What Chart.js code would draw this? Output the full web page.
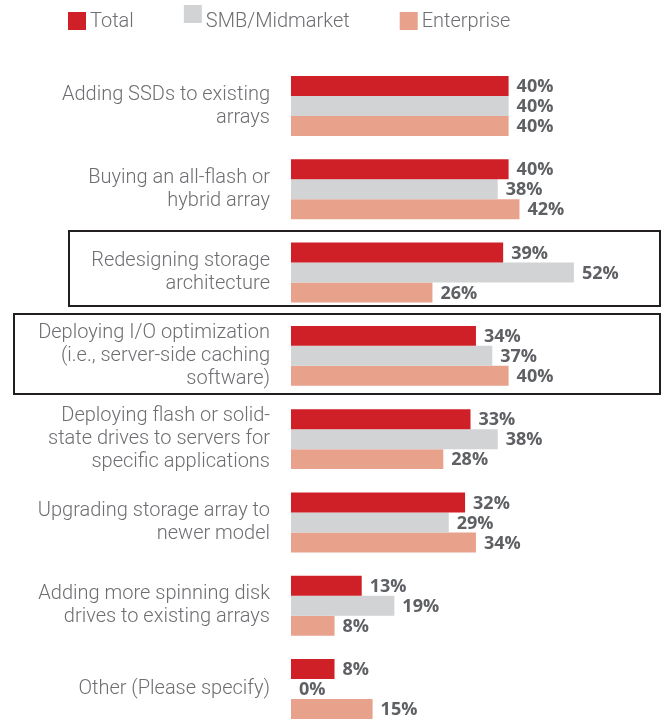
<!DOCTYPE html>
<html>
<head>
<meta charset="utf-8">
<script src="https://cdn.jsdelivr.net/npm/chart.js@4.4.0/dist/chart.umd.min.js"></script>
<style>
  html, body { margin: 0; padding: 0; background: #fff; overflow: hidden; }
</style>
</head>
<body>
<canvas id="chart" width="662" height="740"></canvas>
<script>
const categories = [
    ["Adding SSDs to existing", "arrays"],
    ["Buying an all-flash or", "hybrid array"],
    ["Redesigning storage", "architecture"],
    ["Deploying I/O optimization", "(i.e., server-side caching", "software)"],
    ["Deploying flash or solid-", "state drives to servers for", "specific applications"],
    ["Upgrading storage array to", "newer model"],
    ["Adding more spinning disk", "drives to existing arrays"],
    ["Other (Please specify)"]
];
const total = [40, 40, 39, 34, 33, 32, 13, 8];
const smb = [40, 38, 52, 37, 38, 29, 19, 0];
const enterprise = [40, 42, 26, 40, 28, 34, 8, 15];

const seriesNames = ["Total", "SMB/Midmarket", "Enterprise"];
const seriesColors = ["#cf2027", "#d1d3d4", "#e8a28c"];

const textGray = "#6d6e71";
const valueGray = "#5e6064";

// percent labels at the end of each bar
const valueLabels = {
    id: "valueLabels",
    afterDatasetsDraw(chart) {
        const ctx = chart.ctx;
        ctx.save();
        ctx.font = '700 18px "Open Sans"';
        ctx.fillStyle = valueGray;
        ctx.textAlign = "left";
        ctx.textBaseline = "middle";
        chart.data.datasets.forEach((ds, i) => {
            chart.getDatasetMeta(i).data.forEach((bar, j) => {
                ctx.fillText(ds.data[j] + "%", bar.x + 8, bar.y + 1);
            });
        });
        ctx.restore();
    }
};

// legend row across the top
const legendBoxY = [12, 5, 12];
const topLegend = {
    id: "topLegend",
    afterDraw(chart) {
        const ctx = chart.ctx;
        ctx.save();
        ctx.font = '300 20px Roboto';
        ctx.textBaseline = "middle";
        let x = 68;
        chart.data.datasets.forEach((ds, i) => {
            ctx.fillStyle = ds.backgroundColor;
            ctx.fillRect(x, legendBoxY[i], 18, 18);
            ctx.fillStyle = textGray;
            ctx.fillText(ds.label, x + 22, 22);
            x += 22 + ctx.measureText(ds.label).width + 50;
        });
        ctx.restore();
    }
};

// black frames around two of the answers
const frames = {
    id: "frames",
    afterDraw(chart) {
        const y = chart.scales.y;
        const step = y.getPixelForValue(1) - y.getPixelForValue(0);
        const ctx = chart.ctx;
        ctx.save();
        ctx.strokeStyle = "#231f20";
        ctx.lineWidth = 2;
        [[2, 69, 0.40], [3, 14, 0.46]].forEach(([idx, left, below]) => {
            const c = y.getPixelForValue(idx);
            const top = Math.round(c - step / 2);
            const bottom = Math.round(c + step * below);
            ctx.strokeRect(left, top, 660 - left, bottom - top);
        });
        ctx.restore();
    }
};

new Chart(document.getElementById("chart"), {
    type: "bar",
    data: {
        labels: categories,
        datasets: [
            {label: seriesNames[0], data: total, backgroundColor: seriesColors[0]},
            {label: seriesNames[1], data: smb, backgroundColor: seriesColors[1]},
            {label: seriesNames[2], data: enterprise, backgroundColor: seriesColors[2]}
        ]
    },
    options: {
        indexAxis: "y",
        responsive: false,
        animation: false,
        devicePixelRatio: 1,
        layout: {padding: {top: 64.4, bottom: 9.4, left: 0, right: 44.6}},
        datasets: {bar: {categoryPercentage: 0.72, barPercentage: 1}},
        plugins: {
            legend: {display: false},
            tooltip: {enabled: false}
        },
        scales: {
            x: {display: false, min: 0, max: 60},
            y: {
                grid: {display: false, drawTicks: false},
                border: {display: false},
                ticks: {
                    padding: 21,
                    color: textGray,
                    font: {family: "Roboto", size: 20, weight: "300", lineHeight: 1.15}
                },
                afterFit(scale) {
                    scale.width = 291;
                    scale.paddingTop = 0;
                    scale.paddingBottom = 0;
                }
            }
        }
    },
    plugins: [valueLabels, topLegend, frames]
});
</script>
</body>
</html>
